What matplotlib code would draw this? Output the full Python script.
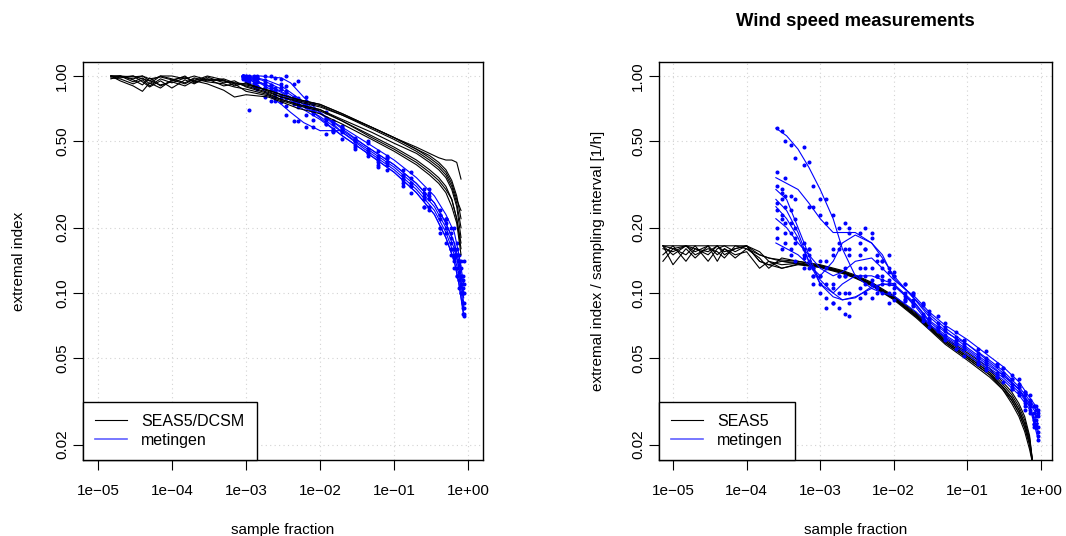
import matplotlib
matplotlib.use("Agg")
import matplotlib.pyplot as plt
from matplotlib.lines import Line2D

plt.rcParams['font.family'] = ['Liberation Sans', 'DejaVu Sans']

# ---- axis labels / ticks ----
x_ticks = [1e-5, 1e-4, 1e-3, 1e-2, 1e-1, 1e0]
x_tick_labels = ['1e\u221205', '1e\u221204', '1e\u221203', '1e\u221202', '1e\u221201', '1e+00']
y_ticks = [1.0, 0.5, 0.2, 0.1, 0.05, 0.02]
y_tick_labels = ['1.00', '0.50', '0.20', '0.10', '0.05', '0.02']

# ---- left panel: extremal index ----
left_model_x = [1.5e-5, 2e-5, 3e-5, 4e-5, 5e-5, 7e-5, 1e-4, 1.5e-4, 2e-4, 3e-4, 5e-4, 7e-4, 1e-3,
                2e-3, 3e-3, 5e-3, 1e-2, 2e-2, 5e-2, 0.1, 0.2, 0.3, 0.4, 0.5, 0.6, 0.7, 0.8]
left_model_y = [
    [1.0, 1.0, 0.97, 1.0, 0.95, 1.0, 1.0, 0.97, 1.0, 0.96, 0.95, 0.93, 0.92, 0.86, 0.82, 0.78, 0.74, 0.67, 0.58, 0.52, 0.47, 0.44, 0.42, 0.41, 0.41, 0.40, 0.335],
    [0.98, 0.97, 0.92, 0.96, 0.90, 0.97, 0.93, 0.98, 0.95, 1.0, 0.96, 0.90, 0.93, 0.85, 0.80, 0.77, 0.73, 0.66, 0.57, 0.51, 0.45, 0.41, 0.38, 0.35, 0.31, 0.26, 0.20],
    [1.0, 0.95, 0.90, 0.85, 0.93, 0.88, 0.96, 0.92, 0.97, 0.94, 0.92, 0.89, 0.87, 0.82, 0.78, 0.74, 0.70, 0.62, 0.52, 0.46, 0.40, 0.36, 0.33, 0.30, 0.27, 0.22, 0.17],
    [0.97, 1.0, 0.96, 0.91, 0.98, 0.90, 0.95, 1.0, 0.93, 0.97, 0.90, 0.92, 0.85, 0.81, 0.77, 0.73, 0.69, 0.62, 0.53, 0.47, 0.41, 0.37, 0.34, 0.31, 0.27, 0.22, 0.16],
    [1.0, 0.98, 1.0, 0.94, 0.89, 0.95, 0.88, 0.96, 0.92, 0.99, 0.93, 0.95, 0.89, 0.83, 0.78, 0.74, 0.70, 0.63, 0.55, 0.49, 0.44, 0.40, 0.37, 0.34, 0.30, 0.25, 0.18],
    [0.99, 1.0, 0.94, 0.98, 0.92, 1.0, 0.97, 0.93, 0.98, 0.95, 0.97, 0.93, 0.90, 0.84, 0.80, 0.76, 0.72, 0.66, 0.58, 0.52, 0.46, 0.43, 0.40, 0.37, 0.33, 0.28, 0.22],
    [1.0, 0.99, 1.0, 0.97, 0.95, 0.91, 0.94, 0.90, 0.95, 0.92, 0.86, 0.80, 0.82, 0.80, 0.76, 0.71, 0.67, 0.60, 0.51, 0.45, 0.39, 0.35, 0.32, 0.29, 0.25, 0.21, 0.15],
    [1.0, 1.0, 0.99, 1.0, 0.97, 0.99, 0.96, 0.99, 0.94, 0.97, 0.95, 0.92, 0.91, 0.86, 0.82, 0.78, 0.74, 0.67, 0.58, 0.52, 0.46, 0.42, 0.39, 0.36, 0.32, 0.27, 0.24],
]

left_obs_x = [9e-4, 1.2e-3, 1.6e-3, 2e-3, 3e-3, 4e-3, 6e-3, 1e-2, 2e-2, 4e-2, 0.1, 0.2, 0.35, 0.5, 0.65, 0.75, 0.87]
left_obs_line = [
    [1.0, 0.97, 0.93, 0.90, 0.84, 0.79, 0.72, 0.65, 0.55, 0.47, 0.38, 0.31, 0.25, 0.20, 0.16, 0.13, 0.09],
    [1.0, 1.0, 1.0, 0.99, 0.98, 0.93, 0.80, 0.68, 0.55, 0.46, 0.37, 0.30, 0.24, 0.19, 0.15, 0.12, 0.085],
    [1.0, 0.95, 0.88, 0.82, 0.74, 0.68, 0.61, 0.56, 0.56, 0.48, 0.39, 0.32, 0.26, 0.21, 0.17, 0.13, 0.095],
    [0.98, 0.95, 0.92, 0.88, 0.82, 0.77, 0.70, 0.63, 0.53, 0.45, 0.36, 0.29, 0.23, 0.18, 0.14, 0.11, 0.08],
    [1.0, 0.99, 0.97, 0.95, 0.90, 0.84, 0.76, 0.68, 0.57, 0.48, 0.39, 0.32, 0.26, 0.21, 0.17, 0.14, 0.10],
    [0.99, 0.96, 0.93, 0.90, 0.85, 0.80, 0.74, 0.67, 0.58, 0.50, 0.41, 0.34, 0.28, 0.23, 0.19, 0.15, 0.11],
    [1.0, 0.98, 0.96, 0.93, 0.87, 0.82, 0.74, 0.64, 0.53, 0.45, 0.36, 0.29, 0.23, 0.18, 0.14, 0.11, 0.078],
]
left_pts_x = [9e-4, 1.1e-3, 1.4e-3, 1.8e-3, 2.5e-3, 3.5e-3, 5e-3, 8e-3, 1.5e-2, 3e-2, 6e-2, 0.13, 0.25, 0.42, 0.58, 0.7, 0.8, 0.87]
left_pts_y = [
    [1.0, 0.97, 0.99, 0.88, 0.83, 0.84, 0.72, 0.69, 0.57, 0.51, 0.40, 0.35, 0.27, 0.22, 0.16, 0.15, 0.11, 0.09],
    [1.0, 0.99, 1.0, 1.0, 0.98, 1.0, 0.95, 0.74, 0.60, 0.48, 0.42, 0.33, 0.27, 0.20, 0.17, 0.13, 0.12, 0.085],
    [1.0, 0.93, 0.90, 0.80, 0.77, 0.66, 0.62, 0.58, 0.55, 0.50, 0.41, 0.35, 0.28, 0.23, 0.18, 0.15, 0.12, 0.10],
    [0.97, 0.96, 0.87, 0.89, 0.80, 0.73, 0.74, 0.63, 0.56, 0.47, 0.38, 0.31, 0.25, 0.20, 0.16, 0.12, 0.10, 0.08],
    [1.0, 1.0, 0.98, 0.96, 0.88, 0.90, 0.79, 0.70, 0.62, 0.52, 0.43, 0.34, 0.29, 0.23, 0.19, 0.16, 0.13, 0.11],
    [0.98, 0.70, 0.94, 0.92, 0.85, 0.79, 0.77, 0.67, 0.62, 0.50, 0.45, 0.37, 0.30, 0.24, 0.20, 0.17, 0.14, 0.14],
    [1.0, 0.99, 0.95, 0.94, 0.86, 0.85, 0.78, 0.68, 0.56, 0.46, 0.39, 0.32, 0.25, 0.19, 0.15, 0.12, 0.10, 0.078],
]
left_pts2_x = [1e-3, 1.3e-3, 2.2e-3, 3e-3, 4.5e-3, 6.5e-3, 1.2e-2, 2e-2, 4.5e-2, 8e-2, 0.17, 0.3, 0.5, 0.65, 0.75, 0.84]
left_pts2_y = [
    [0.96, 0.98, 0.86, 0.87, 0.74, 0.73, 0.60, 0.57, 0.44, 0.42, 0.31, 0.28, 0.21, 0.15, 0.135, 0.105],
    [1.0, 0.98, 1.0, 0.97, 0.92, 0.80, 0.64, 0.57, 0.44, 0.40, 0.32, 0.25, 0.20, 0.14, 0.125, 0.09],
    [0.99, 0.90, 0.77, 0.76, 0.62, 0.58, 0.54, 0.58, 0.49, 0.40, 0.34, 0.27, 0.22, 0.16, 0.14, 0.10],
    [0.95, 0.92, 0.88, 0.79, 0.77, 0.66, 0.63, 0.51, 0.45, 0.37, 0.31, 0.24, 0.19, 0.13, 0.115, 0.085],
    [0.98, 1.0, 0.91, 0.92, 0.80, 0.77, 0.64, 0.59, 0.46, 0.43, 0.32, 0.29, 0.22, 0.16, 0.14, 0.115],
    [1.0, 0.93, 0.91, 0.82, 0.80, 0.72, 0.68, 0.56, 0.50, 0.42, 0.36, 0.30, 0.22, 0.20, 0.15, 0.12],
    [0.99, 0.98, 0.90, 0.89, 0.78, 0.75, 0.60, 0.55, 0.43, 0.39, 0.29, 0.25, 0.17, 0.145, 0.105, 0.08],
]

# ---- right panel: extremal index / sampling interval ----
right_model_x = [7.3e-6, 1e-5, 1.5e-5, 2e-5, 3e-5, 4e-5, 5e-5, 7e-5, 1e-4, 1.5e-4, 2e-4, 3e-4, 5e-4, 1e-3,
                 2e-3, 3e-3, 5e-3, 1e-2, 2e-2, 3e-2, 5e-2, 0.1, 0.2, 0.3, 0.4, 0.5, 0.6, 0.7, 0.78]
right_model_y = [
    [0.165, 0.165, 0.165, 0.165, 0.165, 0.165, 0.165, 0.165, 0.165, 0.15, 0.145, 0.142, 0.14, 0.135, 0.127, 0.121, 0.112, 0.097, 0.081, 0.072, 0.062, 0.053, 0.045, 0.039, 0.035, 0.031, 0.027, 0.022, 0.016],
    [0.15, 0.165, 0.14, 0.16, 0.15, 0.165, 0.155, 0.16, 0.165, 0.14, 0.135, 0.14, 0.136, 0.133, 0.125, 0.119, 0.110, 0.095, 0.079, 0.070, 0.060, 0.051, 0.043, 0.037, 0.033, 0.029, 0.025, 0.021, 0.016],
    [0.165, 0.135, 0.16, 0.145, 0.165, 0.14, 0.16, 0.15, 0.155, 0.13, 0.14, 0.135, 0.137, 0.132, 0.124, 0.118, 0.109, 0.094, 0.078, 0.069, 0.059, 0.050, 0.042, 0.036, 0.032, 0.028, 0.024, 0.020, 0.016],
    [0.16, 0.155, 0.165, 0.15, 0.16, 0.155, 0.145, 0.165, 0.16, 0.145, 0.13, 0.145, 0.14, 0.134, 0.126, 0.120, 0.111, 0.096, 0.080, 0.071, 0.061, 0.052, 0.044, 0.038, 0.034, 0.030, 0.026, 0.0215, 0.016],
    [0.165, 0.16, 0.15, 0.165, 0.14, 0.16, 0.165, 0.155, 0.165, 0.155, 0.14, 0.13, 0.135, 0.131, 0.123, 0.117, 0.108, 0.093, 0.077, 0.068, 0.058, 0.049, 0.041, 0.036, 0.031, 0.027, 0.023, 0.019, 0.016],
    [0.14, 0.16, 0.165, 0.155, 0.165, 0.15, 0.16, 0.145, 0.16, 0.15, 0.145, 0.14, 0.138, 0.133, 0.125, 0.119, 0.110, 0.095, 0.079, 0.070, 0.060, 0.051, 0.043, 0.037, 0.033, 0.029, 0.025, 0.0205, 0.016],
    [0.165, 0.15, 0.165, 0.16, 0.155, 0.165, 0.15, 0.16, 0.165, 0.14, 0.135, 0.13, 0.136, 0.132, 0.124, 0.118, 0.109, 0.094, 0.078, 0.069, 0.059, 0.050, 0.042, 0.037, 0.032, 0.028, 0.024, 0.020, 0.016],
]

right_obs_x = [2.5e-4, 3.5e-4, 5e-4, 7e-4, 1e-3, 1.5e-3, 2e-3, 3e-3, 5e-3, 7e-3, 1e-2, 2e-2, 3e-2, 5e-2, 0.1, 0.2, 0.3, 0.5, 0.7, 0.92]
right_obs_line = [
    [0.575, 0.53, 0.46, 0.38, 0.30, 0.22, 0.16, 0.12, 0.105, 0.10, 0.097, 0.082, 0.072, 0.062, 0.052, 0.044, 0.040, 0.034, 0.029, 0.025],
    [0.34, 0.32, 0.30, 0.26, 0.22, 0.19, 0.19, 0.19, 0.17, 0.145, 0.12, 0.092, 0.078, 0.067, 0.056, 0.047, 0.042, 0.036, 0.031, 0.027],
    [0.30, 0.27, 0.20, 0.15, 0.11, 0.10, 0.11, 0.12, 0.12, 0.115, 0.11, 0.086, 0.072, 0.063, 0.054, 0.045, 0.041, 0.035, 0.030, 0.021],
    [0.25, 0.22, 0.18, 0.14, 0.115, 0.10, 0.093, 0.095, 0.107, 0.11, 0.108, 0.088, 0.074, 0.064, 0.055, 0.046, 0.042, 0.036, 0.031, 0.022],
    [0.17, 0.16, 0.15, 0.135, 0.12, 0.14, 0.17, 0.185, 0.17, 0.15, 0.117, 0.093, 0.080, 0.069, 0.058, 0.049, 0.044, 0.037, 0.032, 0.028],
    [0.27, 0.24, 0.19, 0.14, 0.11, 0.096, 0.093, 0.096, 0.105, 0.11, 0.11, 0.089, 0.075, 0.066, 0.058, 0.048, 0.043, 0.036, 0.030, 0.023],
    [0.22, 0.20, 0.17, 0.15, 0.13, 0.12, 0.125, 0.14, 0.145, 0.13, 0.115, 0.095, 0.082, 0.071, 0.061, 0.051, 0.046, 0.039, 0.033, 0.029],
]
right_pts_x = [2.6e-4, 3e-4, 4e-4, 6e-4, 8e-4, 1.2e-3, 1.8e-3, 2.5e-3, 4e-3, 6e-3, 8.5e-3, 1.4e-2, 2.5e-2, 4e-2, 7e-2, 0.14, 0.25, 0.4, 0.6, 0.8, 0.92]
right_pts_y = [
    [0.575, 0.56, 0.48, 0.47, 0.31, 0.27, 0.20, 0.16, 0.10, 0.12, 0.09, 0.094, 0.074, 0.070, 0.055, 0.051, 0.041, 0.038, 0.032, 0.026, 0.024],
    [0.36, 0.30, 0.28, 0.39, 0.25, 0.21, 0.17, 0.20, 0.20, 0.14, 0.15, 0.11, 0.09, 0.070, 0.066, 0.050, 0.046, 0.040, 0.035, 0.028, 0.027],
    [0.31, 0.29, 0.24, 0.17, 0.13, 0.11, 0.12, 0.09, 0.13, 0.105, 0.115, 0.097, 0.080, 0.070, 0.058, 0.050, 0.043, 0.036, 0.031, 0.025, 0.021],
    [0.26, 0.23, 0.19, 0.145, 0.13, 0.095, 0.085, 0.10, 0.11, 0.12, 0.10, 0.092, 0.078, 0.067, 0.060, 0.047, 0.041, 0.037, 0.030, 0.025, 0.022],
    [0.18, 0.16, 0.15, 0.13, 0.12, 0.13, 0.16, 0.19, 0.16, 0.15, 0.13, 0.11, 0.088, 0.073, 0.063, 0.053, 0.047, 0.040, 0.034, 0.030, 0.028],
    [0.24, 0.27, 0.21, 0.16, 0.12, 0.085, 0.10, 0.078, 0.12, 0.10, 0.11, 0.093, 0.077, 0.069, 0.059, 0.048, 0.042, 0.036, 0.029, 0.024, 0.023],
    [0.20, 0.22, 0.16, 0.15, 0.11, 0.14, 0.12, 0.15, 0.16, 0.12, 0.125, 0.10, 0.089, 0.078, 0.061, 0.055, 0.047, 0.042, 0.035, 0.030, 0.029],
]
right_pts2_x = [3.3e-4, 4.5e-4, 7e-4, 1e-3, 1.5e-3, 2.2e-3, 3.5e-3, 5e-3, 7e-3, 1e-2, 1.8e-2, 3e-2, 5e-2, 0.09, 0.18, 0.3, 0.5, 0.7, 0.85]
right_pts2_y = [
    [0.50, 0.42, 0.40, 0.27, 0.23, 0.13, 0.12, 0.095, 0.11, 0.093, 0.088, 0.070, 0.064, 0.051, 0.047, 0.039, 0.035, 0.028, 0.026],
    [0.34, 0.27, 0.25, 0.23, 0.16, 0.21, 0.17, 0.19, 0.13, 0.125, 0.10, 0.076, 0.070, 0.055, 0.049, 0.043, 0.035, 0.032, 0.027],
    [0.28, 0.22, 0.16, 0.10, 0.09, 0.12, 0.13, 0.11, 0.12, 0.105, 0.09, 0.075, 0.061, 0.057, 0.044, 0.042, 0.034, 0.029, 0.024],
    [0.21, 0.20, 0.13, 0.12, 0.105, 0.08, 0.105, 0.115, 0.10, 0.11, 0.087, 0.077, 0.062, 0.058, 0.045, 0.043, 0.037, 0.030, 0.025],
    [0.17, 0.14, 0.14, 0.11, 0.15, 0.16, 0.19, 0.18, 0.14, 0.12, 0.098, 0.083, 0.067, 0.061, 0.048, 0.045, 0.038, 0.031, 0.029],
    [0.25, 0.18, 0.15, 0.12, 0.09, 0.10, 0.095, 0.11, 0.115, 0.10, 0.093, 0.073, 0.068, 0.056, 0.050, 0.042, 0.037, 0.031, 0.024],
    [0.19, 0.17, 0.16, 0.14, 0.11, 0.12, 0.15, 0.13, 0.14, 0.12, 0.10, 0.08, 0.073, 0.060, 0.054, 0.045, 0.040, 0.034, 0.030],
]

BLUE = '#0000ff'
GRID = '#d3d3d3'
FS = 11


def r_style(ax, xlim, ylim):
    ax.set_xscale('log')
    ax.set_yscale('log')
    ax.set_xlim(*xlim)
    ax.set_ylim(*ylim)
    ax.set_xticks(x_ticks)
    ax.set_xticklabels(x_tick_labels)
    ax.set_yticks(y_ticks)
    ax.set_yticklabels(y_tick_labels, rotation=90, va='center')
    ax.minorticks_off()
    ax.tick_params(direction='out', length=7, width=0.8, labelsize=FS)
    ax.tick_params(axis='x', pad=10)
    ax.tick_params(axis='y', pad=3)
    for t in x_ticks:
        ax.axvline(t, color=GRID, ls=(0, (1, 3)), lw=0.8, zorder=0)
    for t in y_ticks:
        ax.axhline(t, color=GRID, ls=(0, (1, 3)), lw=0.8, zorder=0)
    for s in ax.spines.values():
        s.set_linewidth(1.0)


fig = plt.figure(figsize=(10.66, 5.36), dpi=100)
ax1 = fig.add_axes([0.0779, 0.1418, 0.3752, 0.7425])
ax2 = fig.add_axes([0.6182, 0.1418, 0.3687, 0.7425])

# left panel
for ys in left_obs_line:
    ax1.plot(left_obs_x, ys, color=BLUE, lw=0.8)
for ys in left_pts_y:
    ax1.plot(left_pts_x, ys, ls='none', marker='o', ms=1.9, color=BLUE)
for ys in left_pts2_y:
    ax1.plot(left_pts2_x, ys, ls='none', marker='o', ms=1.9, color=BLUE)
for ys in left_model_y:
    ax1.plot(left_model_x, ys, color='black', lw=0.8)
r_style(ax1, (10 ** -5.2, 10 ** 0.2), (0.017, 1.16))
ax1.set_xlabel('sample fraction', fontsize=FS, labelpad=18)
ax1.set_ylabel('extremal index', fontsize=FS, labelpad=21)

# right panel
for ys in right_model_y:
    ax2.plot(right_model_x, ys, color='black', lw=0.8)
for ys in right_obs_line:
    ax2.plot(right_obs_x, ys, color=BLUE, lw=0.8)
for ys in right_pts_y:
    ax2.plot(right_pts_x, ys, ls='none', marker='o', ms=1.9, color=BLUE)
for ys in right_pts2_y:
    ax2.plot(right_pts2_x, ys, ls='none', marker='o', ms=1.9, color=BLUE)
r_style(ax2, (10 ** -5.19, 10 ** 0.15), (0.017, 1.16))
ax2.set_xlabel('sample fraction', fontsize=FS, labelpad=18)
ax2.set_ylabel('extremal index / sampling interval [1/h]', fontsize=FS, labelpad=19)
ax2.set_title('Wind speed measurements', fontsize=13.3, fontweight='bold', pad=26)

for ax, name in [(ax1, 'SEAS5/DCSM'), (ax2, 'SEAS5')]:
    handles = [Line2D([], [], color='black', lw=0.8), Line2D([], [], color='#6060ff', lw=1.2)]
    leg = ax.legend(handles, [name, 'metingen'], loc='lower left', borderaxespad=0,
                    fancybox=False, framealpha=1, edgecolor='black', fontsize=11.5,
                    handlelength=2.0, handletextpad=0.9, borderpad=0.75, labelspacing=0.25)
    leg.get_frame().set_linewidth(1.0)

fig.savefig('out.png', dpi=100)
